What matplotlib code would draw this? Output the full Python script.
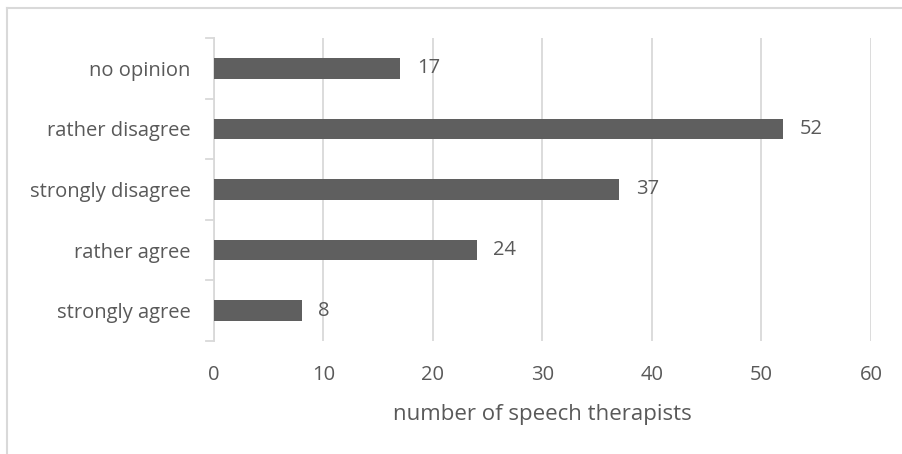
import matplotlib
matplotlib.use("Agg")
import matplotlib.pyplot as plt
from matplotlib.lines import Line2D

categories = ["strongly agree", "rather agree", "strongly disagree", "rather disagree", "no opinion"]
counts = [8, 24, 37, 52, 17]
x_ticks = [0, 10, 20, 30, 40, 50, 60]
x_label = "number of speech therapists"

TEXT = "#595959"
BAR = "#5f5f5f"
GRID = "#d9d9d9"

plt.rcParams["font.family"] = ["Open Sans", "DejaVu Sans"]

W, H = 903, 454
fig = plt.figure(figsize=(W / 100, H / 100), dpi=100)
ax = fig.add_axes([214 / W, 1 - 341 / H, (871 - 214) / W, (341 - 38) / H])

ypos = list(range(len(categories)))
ax.barh(ypos, counts, height=0.34, color=BAR, zorder=3)
for y, v in zip(ypos, counts):
    ax.annotate(str(v), (v, y), xytext=(12, 0), textcoords="offset points",
                va="center", ha="left", fontsize=14.5, color=TEXT)

ax.set_xlim(0, 60)
ax.set_ylim(-0.5, len(categories) - 0.5)
ax.set_xticks(x_ticks)
ax.set_xticklabels([str(t) for t in x_ticks], fontsize=14.5, color=TEXT)
ax.set_yticks(ypos)
ax.set_yticklabels(categories, fontsize=14.5, color=TEXT)
ax.tick_params(axis="x", length=0, pad=17)
ax.tick_params(axis="y", length=0, pad=17)

# category separator ticks on the value axis
for b in [i - 0.5 for i in range(len(categories) + 1)]:
    ax.plot([-0.7, 0], [b, b], color=GRID, lw=1.3, clip_on=False, zorder=2)

ax.grid(axis="x", color=GRID, lw=1.3, zorder=0)
ax.set_axisbelow(True)
for s in ["top", "right", "bottom"]:
    ax.spines[s].set_visible(False)
ax.spines["left"].set_color(GRID)
ax.spines["left"].set_linewidth(1.3)

ax.set_xlabel(x_label, fontsize=16, color=TEXT, labelpad=14)

# chart frame
fig.add_artist(Line2D([7 / W, 7 / W], [0, 1 - 8 / H], color=GRID, lw=1.5, transform=fig.transFigure))
fig.add_artist(Line2D([7 / W, 1], [1 - 8 / H, 1 - 8 / H], color=GRID, lw=1.5, transform=fig.transFigure))

fig.savefig("out.png", dpi=100)
